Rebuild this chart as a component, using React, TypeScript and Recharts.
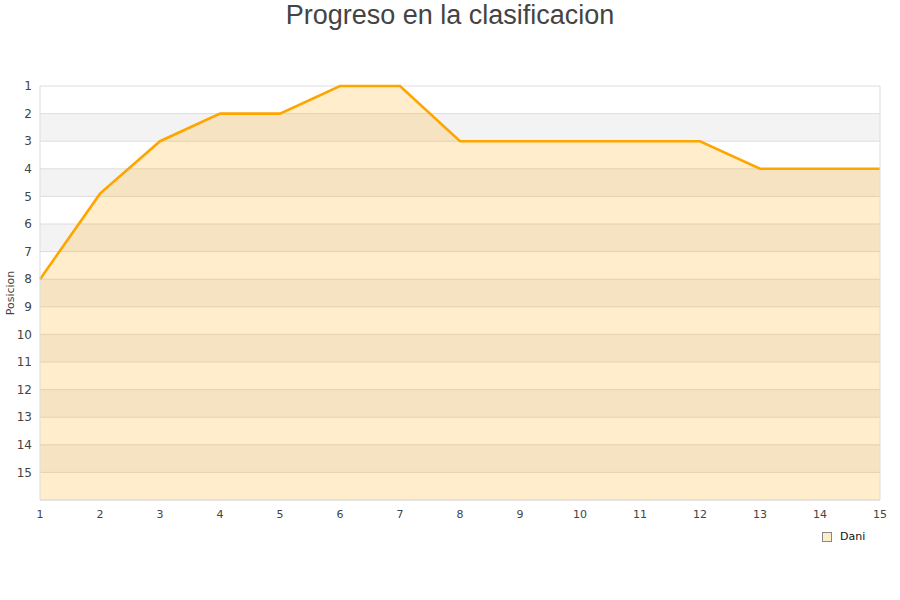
import { AreaChart, Area, XAxis, YAxis, CartesianGrid, Legend, ReferenceLine } from 'recharts';

// Jornadas y posición de Dani
const rounds = [1, 2, 3, 4, 5, 6, 7, 8, 9, 10, 11, 12, 13, 14, 15];
const positions = [8, 4.9, 3, 2, 2, 1, 1, 3, 3, 3, 3, 3, 4, 4, 4];
const positionTicks = [1, 2, 3, 4, 5, 6, 7, 8, 9, 10, 11, 12, 13, 14, 15];

const seriesName = 'Dani';
const title = 'Progreso en la clasificacion';
const yLabel = 'Posicion';

const data = rounds.map((r, i) => ({ round: r, pos: positions[i] }));

const font = '"DejaVu Sans", sans-serif';
const orange = '#ffa500';
const gridColor = '#dddddd';

const LegendBox = () => (
  <div style={{ display: 'flex', alignItems: 'center', fontFamily: font, fontSize: 11, color: '#111' }}>
    <span
      style={{
        display: 'inline-block',
        width: 8,
        height: 8,
        background: '#feedcb',
        border: '1px solid #888',
        marginRight: 8,
      }}
    />
    {seriesName}
  </div>
);

export default function App() {
  return (
    <div style={{ position: 'absolute', left: 0, top: 0, width: 900, height: 600, background: '#fff' }}>
      <div
        style={{
          position: 'absolute',
          top: 0,
          left: 0,
          width: 900,
          textAlign: 'center',
          fontFamily: '"Liberation Sans", Arial, sans-serif',
          fontSize: 27,
          color: '#444',
          lineHeight: '30px',
        }}
      >
        {title}
      </div>
      <AreaChart width={900} height={600} data={data} margin={{ top: 86, right: 20, bottom: 70, left: 0 }}>
        <CartesianGrid vertical={false} stroke={gridColor} horizontalFill={['#ffffff', '#f3f3f3']} />
        <XAxis
          dataKey="round"
          type="number"
          domain={[1, 15]}
          ticks={rounds}
          tickLine={false}
          tickMargin={4}
          axisLine={{ stroke: gridColor }}
          tick={{ fill: '#444', fontSize: 11, fontFamily: font }}
          height={17}
        />
        <YAxis
          type="number"
          reversed
          domain={[1, 16]}
          ticks={positionTicks}
          interval={0}
          tickLine={false}
          axisLine={{ stroke: gridColor }}
          width={40}
          tick={{ fill: '#444', fontSize: 12, fontFamily: font }}
          label={{
            value: yLabel,
            angle: -90,
            position: 'insideLeft',
            offset: 10,
            style: { fill: '#444', fontSize: 11, fontFamily: font, textAnchor: 'middle' },
          }}
        />
        <ReferenceLine x={15} stroke={gridColor} />
        <Area
          type="linear"
          dataKey="pos"
          name={seriesName}
          baseValue="dataMax"
          stroke={orange}
          strokeWidth={2.6}
          fill={orange}
          fillOpacity={0.2}
          dot={false}
          activeDot={false}
          isAnimationActive={false}
        />
        <Legend
          content={<LegendBox />}
          wrapperStyle={{ position: 'absolute', left: 822, top: 530, width: 60 }}
        />
      </AreaChart>
    </div>
  );
}
